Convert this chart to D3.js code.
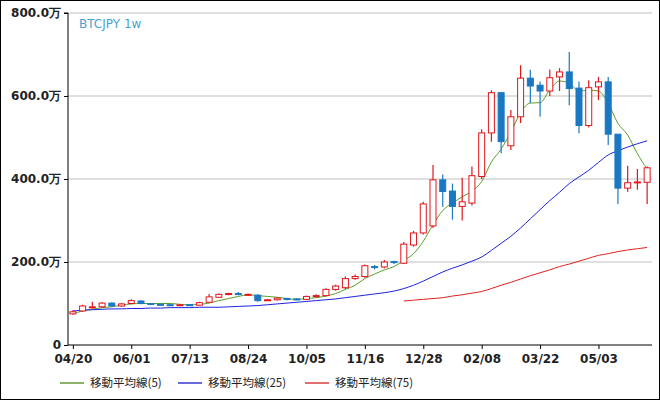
<!DOCTYPE html>
<html><head><meta charset="utf-8">
<script src="https://cdn.jsdelivr.net/npm/d3@7"></script>
<style>body{margin:0;background:#fff}svg{display:block}</style>
</head><body><svg id="c" width="660" height="400"></svg>
<script>
const dates=["04/20","04/27","05/04","05/11","05/18","05/25","06/01","06/08","06/15","06/22","06/29","07/06","07/13","07/20","07/27","08/03","08/10","08/17","08/24","08/31","09/07","09/14","09/21","09/28","10/05","10/12","10/19","10/26","11/02","11/09","11/16","11/23","11/30","12/07","12/14","12/21","12/28","01/04","01/11","01/18","01/25","02/01","02/08","02/15","02/22","03/01","03/08","03/15","03/22","03/29","04/05","04/12","04/19","04/26","05/03","05/10","05/17","05/24","05/31","06/07"];
const tickLabels=["04/20","06/01","07/13","08/24","10/05","11/16","12/28","02/08","03/22","05/03"];
const open=[75,82,92,92,101,94,100,106,100,98,97,96,97,96,103,115,122,124,121,120,108,109,112,111,110,117,119,134,138,160,165,189,188,201,197,241,270,287,398,371,334,342,406,511,608,480,550,643,626,612,646,658,619,529,622,634,508,378,392,392];
const close=[80,94,92,101,94,99,107,100,98,97,96,97,96,102,116,122,124,122,122,107,109,113,111,110,117,119,134,142,160,165,191,188,200,199,243,270,340,398,370,334,345,408,511,608,490,550,643,624,612,644,658,618,529,620,634,508,378,391,393,427];
const high=[84,97,104,103,103,101,110,108,101,100,99,99,99,104,123,124,126,128,124,123,111,115,114,113,119,122,137,145,165,170,194,193,205,203,248,275,345,434,411,389,403,430,520,614,608,566,674,663,635,664,667,706,635,638,646,646,508,432,424,430];
const low=[73,80,88,90,92,92,98,98,96,95,94,94,94,95,101,113,120,120,118,104,106,107,108,108,108,115,117,131,135,157,162,182,185,195,195,237,266,282,333,302,300,336,400,490,462,470,535,583,550,600,612,578,510,524,590,482,340,369,374,340];
const ma5=[75,82,86,90,92,96,99,100,100,100,100,98,97,98,101,107,112,117,121,119,117,115,112,110,112,114,118,124,134,144,160,171,181,189,204,220,250,290,324,342,357,371,394,441,472,513,560,583,584,615,636,631,612,614,612,582,534,506,461,424];
const ma25=[82,84,85,86,87,87,88,88,89,89,90,90,90,91,91,91,92,93,94,95,97,99,101,103,105,107,109,111,114,117,120,123,126,130,136,144,154,165,176,185,193,202,212,228,245,262,282,304,326,348,368,389,405,421,440,458,468,477,485,492];
const ma75=[null,null,null,null,null,null,null,null,null,null,null,null,null,null,null,null,null,null,null,null,null,null,null,null,null,null,null,null,null,null,null,null,null,null,106,108,110,112,114,118,121,125,129,136,144,151,159,167,174,181,189,195,202,209,216,220,225,229,232,235];
const yTicks=[0,200,400,600,800];
const legendNames=["移動平均線(5)","移動平均線(25)","移動平均線(75)"];
const maColors=["#5a9e2a","#2020e0","#e02020"];
const legColors=["#8cb26a","#6a6ae0","#e07070"];

const svg=d3.select("#c");
svg.append("rect").attr("x",0.5).attr("y",0.5).attr("width",659).attr("height",399).attr("fill","#fff").attr("stroke","#000");
const L=68,R=652,T=13,B=345;
const idx=d3.range(dates.length);
const x=d3.scaleLinear().domain([-0.5,dates.length-0.5]).range([L,R]);
const y=d3.scaleLinear().domain([0,800]).range([B,T]);
const font="DejaVu Sans";
// grid
svg.append("g").selectAll("line").data(yTicks.filter(d=>d>0)).join("line")
 .attr("x1",L).attr("x2",R).attr("y1",d=>y(d)).attr("y2",d=>y(d)).attr("stroke","#c0c0c0");
// y axis
const ya=svg.append("g").attr("transform",`translate(${L},0)`).call(d3.axisLeft(y).tickValues(yTicks).tickSize(4).tickFormat(d=>d===0?"0":d.toFixed(1)+"万"));
ya.selectAll("text").attr("font-family",font).attr("font-weight","bold").attr("font-size",12).attr("fill","#222");
ya.select(".domain").attr("d",`M-4,${T}H0V${B}`);
// x axis
const tickIdx=tickLabels.map(t=>dates.indexOf(t));
const xa=svg.append("g").attr("transform",`translate(0,${B})`).call(d3.axisBottom(x).tickValues(tickIdx).tickSize(4).tickFormat(i=>dates[i]));
xa.selectAll("text").attr("font-family",font).attr("font-weight","bold").attr("font-size",12).attr("fill","#222").attr("dy","0.9em");
xa.select(".domain").attr("d",`M${L},0H${R}`);
// title
svg.append("text").attr("x",79).attr("y",28).attr("font-family",font).attr("font-size",12).attr("fill","#4aa3d0").text("BTCJPY 1w");
// MAs
[ma5,ma25,ma75].forEach((arr,k)=>{
 svg.append("path").datum(idx).attr("fill","none").attr("stroke",maColors[k]).attr("stroke-width",1)
  .attr("d",d3.line().defined(i=>arr[i]!=null).x(i=>x(i)).y(i=>y(arr[i])).curve(d3.curveMonotoneX));
});
// candles
const cw=6;
const g=svg.append("g");
idx.forEach(i=>{
 const up=close[i]>=open[i];
 const col=up?"#e0161b":"#1a78c2";
 g.append("line").attr("x1",x(i)).attr("x2",x(i)).attr("y1",y(high[i])).attr("y2",y(low[i])).attr("stroke",col).attr("stroke-width",1.2);
 const top=y(Math.max(open[i],close[i])),bot=y(Math.min(open[i],close[i]));
 g.append("rect").attr("x",x(i)-cw/2).attr("y",top).attr("width",cw).attr("height",Math.max(1,bot-top))
  .attr("fill",up?"#fff":col).attr("stroke",col).attr("stroke-width",1);
});
// legend
const lx=[60,178,305];
legendNames.forEach((n,k)=>{
 svg.append("line").attr("x1",lx[k]).attr("x2",lx[k]+24).attr("y1",383).attr("y2",383).attr("stroke",legColors[k]).attr("stroke-width",2);
 svg.append("text").attr("x",lx[k]+30).attr("y",387).attr("font-family","Noto Sans CJK JP").attr("font-size",11.5).attr("fill","#222").text(n);
});
</script></body></html>
